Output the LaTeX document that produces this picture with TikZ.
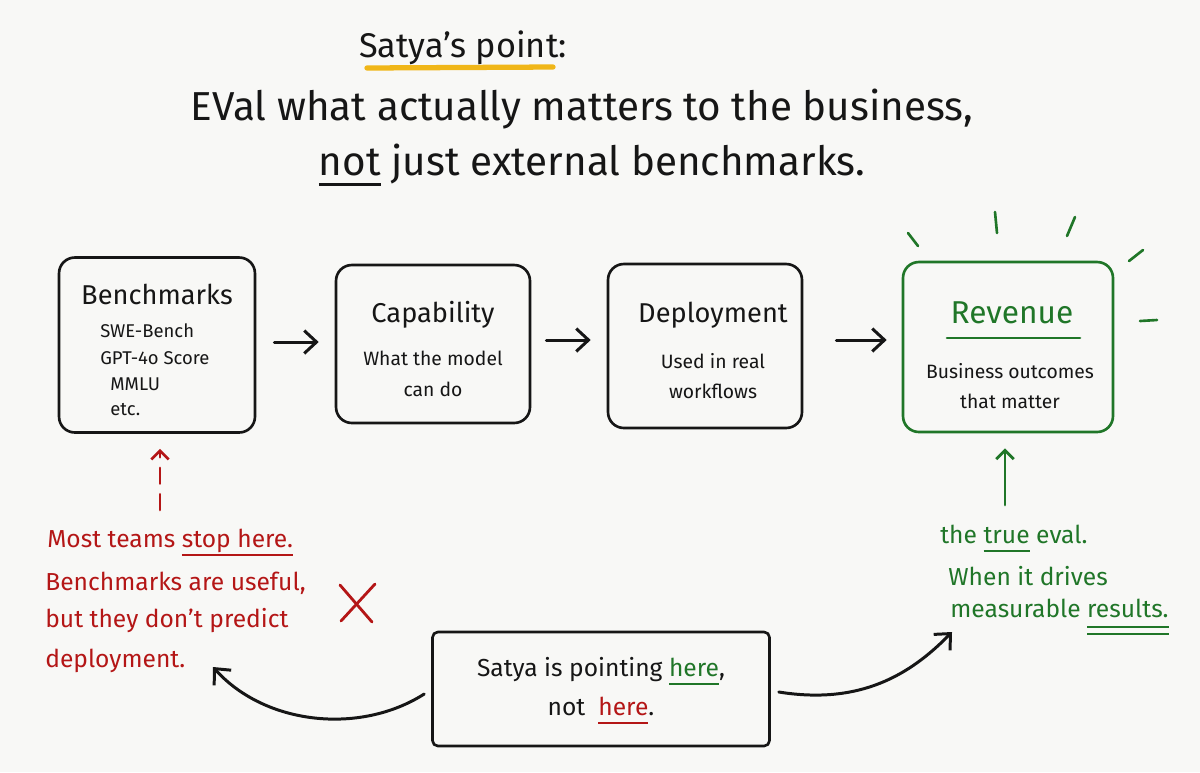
\documentclass[tikz,border=0pt]{standalone}
\usepackage{fontspec}
\setmainfont{Fira Sans}
\usetikzlibrary{arrows.meta}
\definecolor{bg}{RGB}{248,248,246}
\definecolor{ink}{RGB}{22,22,22}
\definecolor{rd}{RGB}{180,22,22}
\definecolor{gr}{RGB}{32,118,40}
\definecolor{yl}{RGB}{240,182,24}
\newcommand\ulin[3]{\leavevmode\setbox0\hbox{#3}\rlap{\color{#1}\rule[#2]{\wd0}{1.2pt}}\box0\relax}
\newcommand\dulin[3]{\leavevmode\setbox0\hbox{#3}\rlap{\color{#1}\rule[#2]{\wd0}{1.1pt}}\rlap{\color{#1}\rule[\dimexpr#2-4pt\relax]{\wd0}{1.1pt}}\box0\relax}
\begin{document}
\begin{tikzpicture}[x=0.02cm,y=-0.02cm,line cap=round,line join=round,
  box/.style={draw=ink,line width=1.5pt,rounded corners=9pt,inner sep=0pt},
  flow/.style={-{Straight Barb[length=7pt,width=13pt]},line width=1.7pt,ink},
  title/.style={font=\fontsize{23}{26}\selectfont,text=ink,inner sep=0pt},
  head/.style={font=\fontsize{15.5}{18}\selectfont,text=ink,inner sep=0pt},
  sub/.style={font=\fontsize{11}{13}\selectfont,text=ink,inner sep=0pt},
  lst/.style={font=\fontsize{10.5}{12}\selectfont,text=ink,inner sep=0pt,anchor=base west},
  note/.style={font=\fontsize{14}{16}\selectfont,inner sep=0pt,anchor=base west}]
\fill[bg] (0,0) rectangle (1200,772);
\useasboundingbox (0,0) rectangle (1200,772);

% title
\node[title,font=\fontsize{19.5}{22}\selectfont,anchor=base] (t1) at (463,57) {Satya's point:};
\draw[yl,line width=3pt] (367,68) -- (553,67);
\node[title,anchor=base] (t2) at (582,120) {EVal what actually matters to the business,};
\node[title,anchor=base] (t3) at (592,175) {\ulin{ink}{-6pt}{not} just external benchmarks.};

% boxes
\node[box,minimum width=3.92cm,minimum height=3.5cm] (bench) at (157,345) {};
\node[box,minimum width=3.88cm,minimum height=3.16cm] (cap) at (433,344) {};
\node[box,minimum width=3.88cm,minimum height=3.28cm] (dep) at (705,346) {};
\node[box,draw=gr,minimum width=4.2cm,minimum height=3.4cm] (rev) at (1008,347) {};
\node[box,rounded corners=3pt,minimum width=6.74cm,minimum height=2.28cm] (bot) at (601,689) {};

% box texts
\node[head,anchor=base] (benchT) at (157,304) {Benchmarks};
\node[lst] (l1) at (100,337) {SWE-Bench};
\node[lst] (l2) at (100,364) {GPT-4o Score};
\node[lst] (l3) at (110,390) {MMLU};
\node[lst] (l4) at (110,415) {etc.};

\node[head,anchor=base] (capT) at (433,322) {Capability};
\node[sub,anchor=base] (capS1) at (433,365) {What the model};
\node[sub,anchor=base] (capS2) at (433,396) {can do};

\node[head,anchor=base] (depT) at (713,322) {Deployment};
\node[sub,anchor=base] (depS1) at (713,368) {Used in real};
\node[sub,anchor=base] (depS2) at (713,398) {workflows};

\node[head,text=gr,font=\fontsize{18}{21}\selectfont,anchor=base] (revT) at (1012,323) {Revenue};
\draw[gr,line width=1.5pt] (947,338) -- (1080,338);
\node[sub,anchor=base] (revS1) at (1010,378) {Business outcomes};
\node[sub,anchor=base] (revS2) at (1010,408) {that matter};

% flow arrows
\draw[flow,shorten <=0.36cm,shorten >=0.32cm] (bench.east |- 0,342) -- (cap.west |- 0,342);
\draw[flow,shorten <=0.3cm,shorten >=0.32cm] (cap.east |- 0,340) -- (dep.west |- 0,340);
\draw[flow,shorten <=0.66cm,shorten >=0.3cm] (dep.east |- 0,340) -- (rev.west |- 0,340);

% rays
\draw[gr,line width=1.5pt] (908,233) -- (918,246);
\draw[gr,line width=1.5pt] (995,212) -- (997,233);
\draw[gr,line width=1.5pt] (1075,217) -- (1067,236);
\draw[gr,line width=1.5pt] (1143,250) -- (1129,261);
\draw[gr,line width=1.5pt] (1140,321) -- (1157,320);

% red notes
\coordinate (dashS) at (160,510);
\draw[rd,line width=1.5pt,dash pattern=on 9pt off 6pt,-{Straight Barb[length=5pt,width=10pt]},shorten >=0.3cm] (dashS) -- (dashS |- bench.south);
\node[note,text=rd] (r1) at (47,547) {Most teams \ulin{rd}{-5pt}{stop here.}};
\node[note,text=rd] (r2) at (45,590) {Benchmarks are useful,};
\node[note,text=rd] (r3) at (45,627) {but they don't predict};
\node[note,text=rd] (r4) at (45,667) {deployment.};
\draw[rd,line width=1.6pt] (340,585) -- (372,622);
\draw[rd,line width=1.6pt] (375,584) -- (341,621);

% green notes
\coordinate (grS) at (1005,505);
\draw[gr,line width=1.6pt,-{Straight Barb[length=5pt,width=10pt]},shorten >=0.3cm] (grS) -- (grS |- rev.south);
\node[note,text=gr] (g1) at (940,543) {the \ulin{gr}{-5pt}{true} eval.};
\node[note,text=gr] (g2) at (948,585) {When it drives};
\node[note,text=gr] (g3) at (950,617) {measurable \dulin{gr}{-6pt}{results.}};

% bottom box text
\node[sub,font=\fontsize{14}{16}\selectfont,anchor=base] (b1) at (601,676) {Satya is pointing \textcolor{gr}{\ulin{gr}{-5pt}{here}},};
\node[sub,font=\fontsize{14}{16}\selectfont,anchor=base] (b2) at (601,715) {not\ \ \textcolor{rd}{\ulin{rd}{-5pt}{here}}.};

% curved arrows
\coordinate (lEnd) at (213,667);
\coordinate (rEnd) at (952,632);
\draw[flow] ([xshift=-0.14cm]bot.west |- 0,694) .. controls (360,735) and (265,725) .. (lEnd);
\draw[flow] ([xshift=0.16cm]bot.east |- 0,692) .. controls (860,705) and (910,675) .. (rEnd);
\end{tikzpicture}
\end{document}
